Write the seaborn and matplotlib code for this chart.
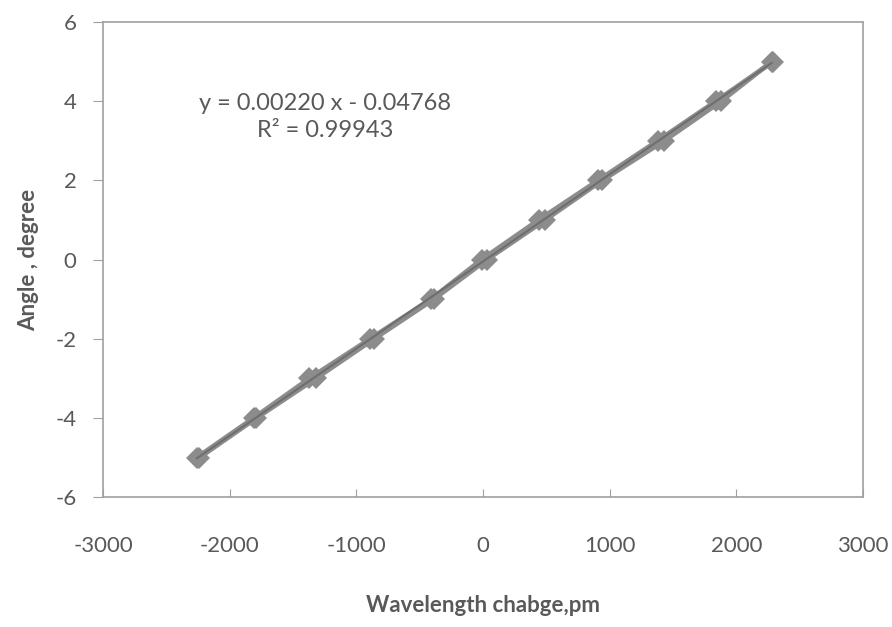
import numpy as np
import pandas as pd
import matplotlib
matplotlib.use('Agg')
import matplotlib.pyplot as plt
import seaborn as sns

# 读取数据
angle = [-5, -4, -3, -2, -1, 0, 1, 2, 3, 4, 5]
wl_run1 = [-2260, -1810, -1370, -890, -410, -10, 440, 910, 1380, 1840, 2290]
wl_run2 = [-2240, -1790, -1320, -860, -390, 30, 490, 940, 1430, 1880, 2280]
slope = 0.00220
intercept = -0.04768
r2 = 0.99943
x_ticks = [-3000, -2000, -1000, 0, 1000, 2000, 3000]
y_ticks = [-6, -4, -2, 0, 2, 4, 6]

df = pd.DataFrame({
    'wl': wl_run1 + wl_run2,
    'angle': angle + angle,
    'run': ['1'] * len(angle) + ['2'] * len(angle),
})

sns.set_style('white')
plt.rcParams['font.family'] = ['Lato', 'DejaVu Sans']
plt.rcParams['axes.unicode_minus'] = False

fig = plt.figure(figsize=(8.92, 6.27), dpi=100)
ax = fig.add_axes([0.1155, 0.207, 0.852, 0.758])

sns.lineplot(data=df, x='wl', y='angle', units='run', estimator=None, sort=True,
             color='#8c8c8c', lw=3.5, marker='D', markersize=11,
             markeredgewidth=0, ax=ax)

# trend line
xf = np.array([min(wl_run1), max(wl_run2)])
ax.plot(xf, slope * xf + intercept, color='#6e6e6e', lw=1.5)

ax.text(-1250, 3.95, f'y = {slope:.5f} x - {abs(intercept):.5f}',
        ha='center', va='center', fontsize=17, color='#595959')
ax.text(-1250, 3.25, f'R² = {r2:.5f}',
        ha='center', va='center', fontsize=17, color='#595959')

ax.set_xlim(-3000, 3000)
ax.set_ylim(-6, 6)
ax.set_xticks(x_ticks)
ax.set_yticks(y_ticks)
ax.tick_params(axis='x', direction='in', length=6, color='#a0a0a0',
               labelsize=16, labelcolor='#595959', pad=28)
ax.tick_params(axis='y', direction='out', length=7, color='#a0a0a0',
               labelsize=16, labelcolor='#595959', pad=12)
ax.tick_params(bottom=True, left=True)
for s in ax.spines.values():
    s.set_color('#a0a0a0')
    s.set_linewidth(1.2)

ax.set_xlabel('Wavelength chabge,pm', fontsize=16, fontweight='bold',
              color='#595959', labelpad=28)
ax.set_ylabel('Angle , degree', fontsize=16, fontweight='bold',
              color='#595959', labelpad=12)

fig.savefig('out.png', dpi=100)
